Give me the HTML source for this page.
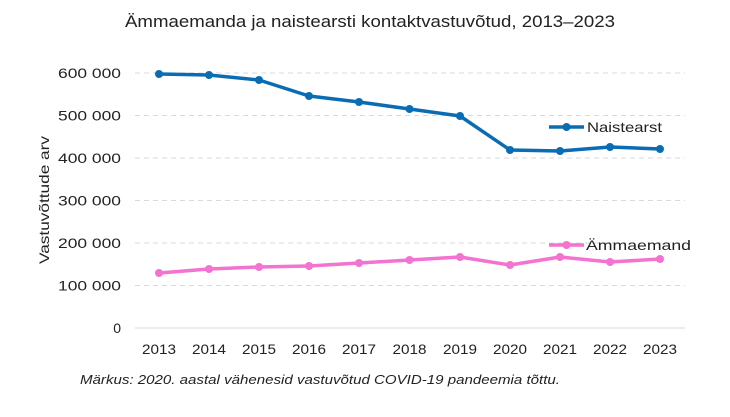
<!DOCTYPE html>
<html><head><meta charset="utf-8"><style>body{margin:0;background:#fff}svg{display:block}text{font-family:"Liberation Sans",sans-serif;fill:#222}</style></head><body>
<svg width="730" height="417" viewBox="0 0 730 417">
<text x="125" y="27" font-size="16.5" textLength="490" lengthAdjust="spacingAndGlyphs">Ämmaemanda ja naistearsti kontaktvastuvõtud, 2013–2023</text>
<g stroke="#d9d9d9" stroke-dasharray="5,4" stroke-width="1">
<line x1="135" x2="685" y1="73" y2="73"/><line x1="135" x2="685" y1="115.5" y2="115.5"/><line x1="135" x2="685" y1="158" y2="158"/><line x1="135" x2="685" y1="200.5" y2="200.5"/><line x1="135" x2="685" y1="243" y2="243"/><line x1="135" x2="685" y1="285.5" y2="285.5"/></g>
<line x1="135" x2="685" y1="328" y2="328" stroke="#d9d9d9"/>
<g font-size="14" text-anchor="end">
<text x="121" y="78" textLength="63" lengthAdjust="spacingAndGlyphs">600 000</text><text x="121" y="120.5" textLength="63" lengthAdjust="spacingAndGlyphs">500 000</text><text x="121" y="163" textLength="63" lengthAdjust="spacingAndGlyphs">400 000</text><text x="121" y="205.5" textLength="63" lengthAdjust="spacingAndGlyphs">300 000</text><text x="121" y="248" textLength="63" lengthAdjust="spacingAndGlyphs">200 000</text><text x="121" y="290.5" textLength="63" lengthAdjust="spacingAndGlyphs">100 000</text><text x="121" y="333">0</text></g>
<g font-size="14">
<text x="142" y="354" textLength="34" lengthAdjust="spacingAndGlyphs">2013</text><text x="192" y="354" textLength="34" lengthAdjust="spacingAndGlyphs">2014</text><text x="242" y="354" textLength="34" lengthAdjust="spacingAndGlyphs">2015</text><text x="292" y="354" textLength="34" lengthAdjust="spacingAndGlyphs">2016</text><text x="342" y="354" textLength="34" lengthAdjust="spacingAndGlyphs">2017</text><text x="392.5" y="354" textLength="34" lengthAdjust="spacingAndGlyphs">2018</text><text x="443" y="354" textLength="34" lengthAdjust="spacingAndGlyphs">2019</text><text x="493" y="354" textLength="34" lengthAdjust="spacingAndGlyphs">2020</text><text x="543" y="354" textLength="34" lengthAdjust="spacingAndGlyphs">2021</text><text x="593" y="354" textLength="34" lengthAdjust="spacingAndGlyphs">2022</text><text x="643" y="354" textLength="34" lengthAdjust="spacingAndGlyphs">2023</text></g>
<text transform="translate(49,200) rotate(-90)" font-size="14" text-anchor="middle" textLength="128" lengthAdjust="spacingAndGlyphs">Vastuvõttude arv</text>
<polyline fill="none" stroke="#0a6db3" stroke-width="3.5" stroke-linejoin="round" points="159,74 209,75 259,80 309,96 359,102 409.5,109 460,116 510,150 560,151 610,147 660,149"/>
<g fill="#0a6db3"><circle cx="159" cy="74" r="4"/><circle cx="209" cy="75" r="4"/><circle cx="259" cy="80" r="4"/><circle cx="309" cy="96" r="4"/><circle cx="359" cy="102" r="4"/><circle cx="409.5" cy="109" r="4"/><circle cx="460" cy="116" r="4"/><circle cx="510" cy="150" r="4"/><circle cx="560" cy="151" r="4"/><circle cx="610" cy="147" r="4"/><circle cx="660" cy="149" r="4"/></g>
<polyline fill="none" stroke="#f472d0" stroke-width="3.5" stroke-linejoin="round" points="159,273 209,269 259,267 309,266 359,263 409.5,260 460,257 510,265 560,257 610,262 660,259"/>
<g fill="#f472d0"><circle cx="159" cy="273" r="4"/><circle cx="209" cy="269" r="4"/><circle cx="259" cy="267" r="4"/><circle cx="309" cy="266" r="4"/><circle cx="359" cy="263" r="4"/><circle cx="409.5" cy="260" r="4"/><circle cx="460" cy="257" r="4"/><circle cx="510" cy="265" r="4"/><circle cx="560" cy="257" r="4"/><circle cx="610" cy="262" r="4"/><circle cx="660" cy="259" r="4"/></g>
<line x1="549" x2="584" y1="127" y2="127" stroke="#0a6db3" stroke-width="3.5"/><circle cx="566.5" cy="127" r="4" fill="#0a6db3"/>
<text x="587" y="132" font-size="14" textLength="75" lengthAdjust="spacingAndGlyphs">Naistearst</text>
<line x1="549" x2="584" y1="245" y2="245" stroke="#f472d0" stroke-width="3.5"/><circle cx="566.5" cy="245" r="4" fill="#f472d0"/>
<text x="586" y="250" font-size="14" textLength="105" lengthAdjust="spacingAndGlyphs">Ämmaemand</text>
<text x="80" y="384" font-size="12.5" font-style="italic" textLength="480" lengthAdjust="spacingAndGlyphs">Märkus: 2020. aastal vähenesid vastuvõtud COVID-19 pandeemia tõttu.</text>
</svg></body></html>
